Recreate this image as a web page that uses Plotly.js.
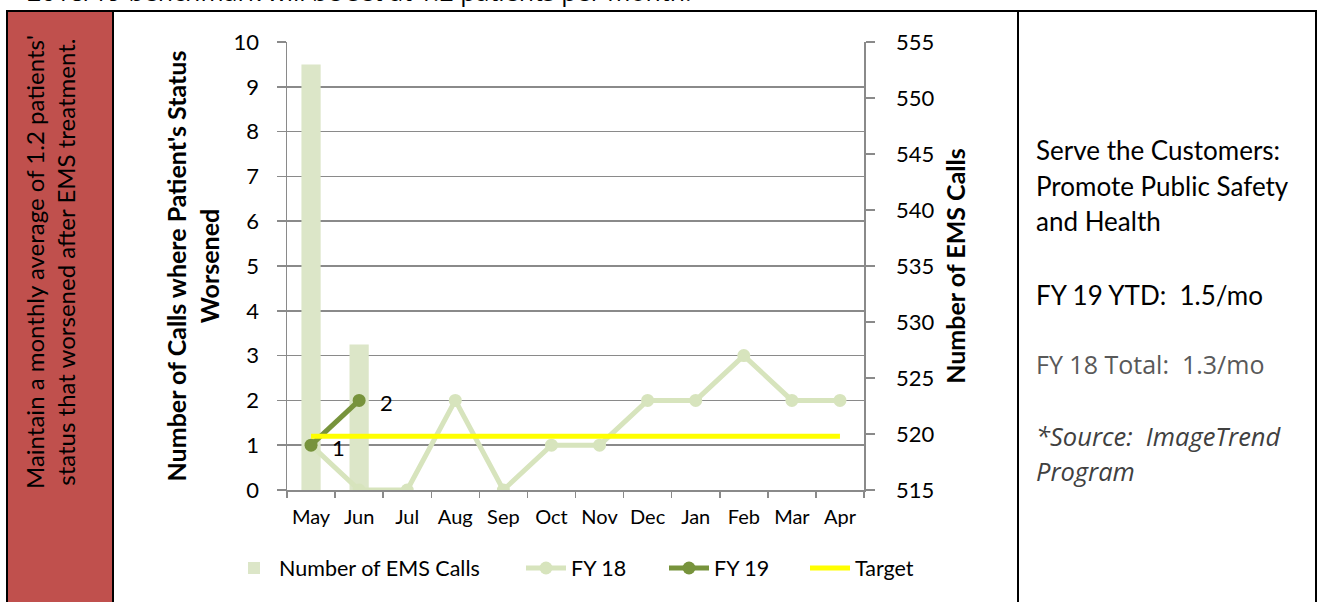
<!DOCTYPE html>
<html>
<head>
<meta charset="utf-8">
<script src="https://cdn.plot.ly/plotly-3.0.1.min.js"></script>
<style>
html,body{margin:0;padding:0;background:#fff;}
#chart{width:1321px;height:602px;}
</style>
</head>
<body>
<div id="chart"></div>
<script>
// ---- data ----
const months = ["May","Jun","Jul","Aug","Sep","Oct","Nov","Dec","Jan","Feb","Mar","Apr"];
const emsCalls = [553, 528, null, null, null, null, null, null, null, null, null, null];
const fy18 = [1, 0, 0, 2, 0, 1, 1, 2, 2, 3, 2, 2];
const fy19 = [1, 2, null, null, null, null, null, null, null, null, null, null];
const target = [1.2, 1.2, 1.2, 1.2, 1.2, 1.2, 1.2, 1.2, 1.2, 1.2, 1.2, 1.2];
const leftTicks = [0,1,2,3,4,5,6,7,8,9,10];
const rightTicks = [515,520,525,530,535,540,545,550,555];

// ---- geometry helpers (pixel -> paper) ----
const W = 1321, H = 602;
const PL = 287, PR = 864, PT = 42, PB = 490;
const px = x => (x - PL) / (PR - PL);
const py = y => (PB - y) / (PB - PT);

const FONT = "Lato, 'Open Sans', sans-serif";
const OPEN = "'Open Sans', sans-serif";
const GRID = "#8a8a8a";
const LEGFONT = {family: FONT, size: 21.5, color: "#000"};

// bars on primary (right-side) axis so the lines on the overlay are drawn above them
const traces = [
  {
    type: "bar", name: "Number of EMS Calls", x: months, y: emsCalls, yaxis: "y",
    marker: {color: "#dce6c8"}, width: 0.4, hoverinfo: "skip", legend: "legend"
  },
  {
    type: "scatter", mode: "lines+markers", name: "FY 18", x: months, y: fy18, yaxis: "y2",
    line: {color: "#d7e4bd", width: 5}, marker: {color: "#d7e4bd", size: 13}, legend: "legend2"
  },
  {
    type: "scatter", mode: "lines+markers", name: "FY 19", x: months, y: fy19, yaxis: "y2",
    line: {color: "#77933c", width: 5}, marker: {color: "#77933c", size: 13}, legend: "legend3"
  },
  {
    type: "scatter", mode: "lines", name: "Target", x: months, y: target, yaxis: "y2",
    line: {color: "#ffff00", width: 5}, legend: "legend4"
  }
];

const shapes = [
  {type:"rect", xref:"paper", yref:"paper", x0:px(7), x1:px(113), y0:py(11), y1:py(610),
   fillcolor:"#c0504d", line:{color:"#000", width:2}, layer:"below"},
  {type:"line", xref:"paper", yref:"paper", x0:px(7), x1:px(1316), y0:py(11), y1:py(11),
   line:{color:"#000", width:2}},
  {type:"line", xref:"paper", yref:"paper", x0:px(1018), x1:px(1018), y0:py(10), y1:py(610),
   line:{color:"#000", width:2}},
  {type:"line", xref:"paper", yref:"paper", x0:px(1316), x1:px(1316), y0:py(10), y1:py(610),
   line:{color:"#000", width:2}}
];

const annotations = [
  {xref:"paper", yref:"paper", x:px(25), y:py(10), xanchor:"left", yanchor:"bottom", showarrow:false,
   text:"2018/19 benchmark will be set at 1.2 patients per month.",
   font:{family:OPEN, size:25, color:"#000"}},
  {xref:"paper", yref:"paper", x:px(50), y:py(262), xanchor:"center", yanchor:"middle", showarrow:false,
   textangle:-90, text:"Maintain a monthly average of 1.2 patients'<br>status that worsened after EMS treatment.",
   font:{family:FONT, size:24, color:"#000"}},
  {xref:"paper", yref:"paper", x:px(1034), y:py(150), xanchor:"left", yanchor:"middle", showarrow:false,
   text:"Serve the Customers:", font:{family:FONT, size:26, color:"#000"}},
  {xref:"paper", yref:"paper", x:px(1034), y:py(186), xanchor:"left", yanchor:"middle", showarrow:false,
   text:"Promote Public Safety", font:{family:FONT, size:26, color:"#000"}},
  {xref:"paper", yref:"paper", x:px(1034), y:py(221), xanchor:"left", yanchor:"middle", showarrow:false,
   text:"and Health", font:{family:FONT, size:26, color:"#000"}},
  {xref:"paper", yref:"paper", x:px(1034), y:py(295), xanchor:"left", yanchor:"middle", showarrow:false,
   text:"FY 19 YTD:\u00a0 1.5/mo", font:{family:FONT, size:26, color:"#000"}},
  {xref:"paper", yref:"paper", x:px(1034), y:py(364), xanchor:"left", yanchor:"middle", showarrow:false,
   text:"FY 18 Total:\u00a0 1.3/mo", font:{family:OPEN, size:25, color:"#595959"}},
  {xref:"paper", yref:"paper", x:px(1034), y:py(436), xanchor:"left", yanchor:"middle", showarrow:false,
   text:"<i>*Source:\u00a0 ImageTrend</i>", font:{family:OPEN, size:25.5, color:"#404040"}},
  {xref:"paper", yref:"paper", x:px(1034), y:py(471), xanchor:"left", yanchor:"middle", showarrow:false,
   text:"<i>Program</i>", font:{family:OPEN, size:25.5, color:"#404040"}}
];

fy19.forEach((v, i) => {
  if (v !== null) {
    annotations.push({x: months[i], y: v, xref:"x", yref:"y2", showarrow:false,
      xanchor:"center", yanchor:"middle", xshift: 27, yshift: -2,
      text: String(v), font:{family:FONT, size:22, color:"#000"}});
  }
});

function leg(xpix) {
  return {orientation: "h", x: px(xpix), xanchor: "left", y: py(568), yanchor: "middle",
          font: LEGFONT, bgcolor: "rgba(0,0,0,0)", itemwidth: 40};
}

const layout = {
  width: W, height: H,
  margin: {l: PL, r: W - PR, t: PT, b: H - PB, pad: 0},
  paper_bgcolor: "#fff", plot_bgcolor: "#fff",
  font: {family: FONT, color: "#000"},
  showlegend: true,
  legend: leg(229),
  legend2: leg(521),
  legend3: leg(664),
  legend4: leg(805),
  xaxis: {
    type: "category", categoryorder: "array", categoryarray: months,
    range: [-0.5, 11.5], autorange: false,
    showline: true, linecolor: GRID, linewidth: 1.5,
    ticks: "outside", tickson: "boundaries", ticklen: 6, tickcolor: GRID, tickwidth: 1.5,
    showgrid: false, zeroline: false, tickangle: 0, ticklabelstandoff: 8,
    tickfont: {family: FONT, size: 20, color: "#000"}
  },
  yaxis: {
    side: "right", range: [515, 555],
    tickvals: rightTicks, ticktext: rightTicks.map(String),
    showline: true, linecolor: GRID, linewidth: 1.5,
    ticks: "outside", ticklen: 9, tickcolor: GRID, tickwidth: 1.5,
    showgrid: false, zeroline: false,
    tickfont: {family: FONT, size: 22, color: "#000"}, ticklabelstandoff: 17,
    title: {text: "<b>Number of EMS Calls</b>", standoff: 14,
            font: {family: FONT, size: 25, color: "#000"}}
  },
  yaxis2: {
    overlaying: "y", side: "left", range: [0, 10],
    tickvals: leftTicks, ticktext: leftTicks.map(String),
    showline: true, linecolor: GRID, linewidth: 1.5,
    ticks: "outside", ticklen: 9, tickcolor: GRID, tickwidth: 1.5,
    showgrid: true, gridcolor: GRID, gridwidth: 1.5, zeroline: false,
    tickfont: {family: FONT, size: 22, color: "#000"}, ticklabelstandoff: 13,
    title: {text: "<b>Number of Calls where Patient's Status<br>Worsened</b>", standoff: 7,
            font: {family: FONT, size: 25, color: "#000"}}
  },
  shapes: shapes,
  annotations: annotations
};

Plotly.newPlot("chart", traces, layout, {displayModeBar: false, staticPlot: true});
</script>
</body>
</html>
